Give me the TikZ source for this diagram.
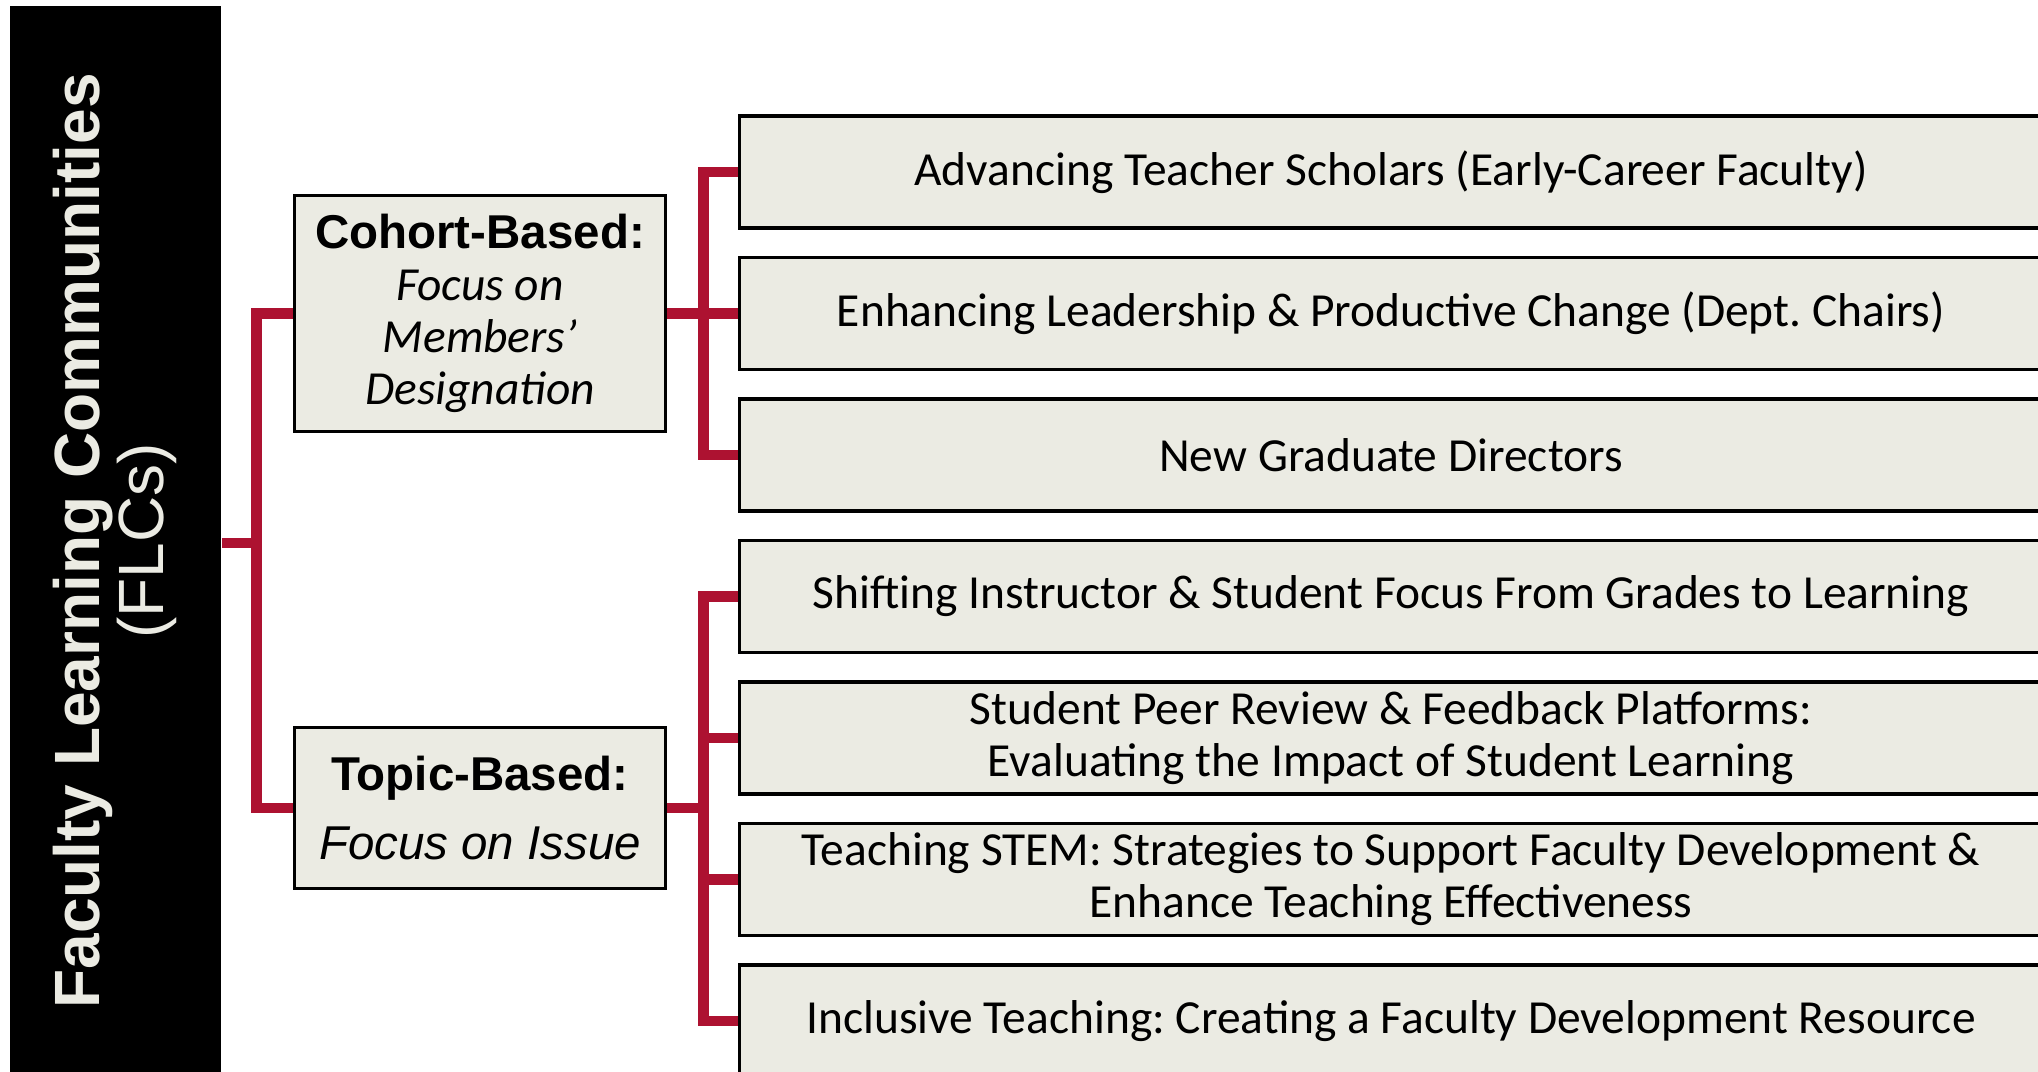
\documentclass[tikz,border=0pt]{standalone}
\usepackage{fontspec}
\setmainfont{Carlito}
\newfontfamily\arialfont{Liberation Sans}
\usetikzlibrary{calc}
\frenchspacing
\definecolor{flcred}{HTML}{AD1231}
\definecolor{boxgray}{HTML}{EBEBE3}
\definecolor{titlegray}{HTML}{EBEBE3}
\tikzset{
  link/.style={draw=flcred, line width=3.1pt},
  hub/.style={
    draw=black,
    fill=boxgray,
    line width=0.9pt,
    align=center,
    minimum width=3.7cm,
    inner sep=2pt,
    font=\fontsize{13.5}{14.8}\selectfont
  },
  leaf/.style={
    draw=black,
    fill=boxgray,
    line width=0.9pt,
    align=center,
    minimum width=13.02cm,
    minimum height=1.12cm,
    inner sep=2pt,
    font=\fontsize{13.5}{14.8}\selectfont
  },
  titlebar/.style={fill=black, minimum width=2.11cm, minimum height=10.74cm, inner sep=0pt}
}
\begin{document}
\begin{tikzpicture}[x=0.01cm,y=-0.01cm]
  \useasboundingbox (0,0) rectangle (2038,1072);
  \clip (0,0) rectangle (2038,1072);

  \node[titlebar] (bar) at (115.5,543) {};
  \node[rotate=90, text=titlegray, align=center,
    font=\arialfont\fontsize{18.2}{17}\selectfont] (title) at (115,541)
    {\textbf{Faculty Learning Communities}\\(FLCs)};

  \node[hub, minimum height=2.36cm] (cohort) at (480,313.5)
    {{\arialfont\bfseries Cohort-Based:}\\\textit{Focus on}\\\textit{Members’}\\\textit{Designation}};
  \node[hub, minimum height=1.61cm] (topic) at (480,808)
    {{\arialfont\bfseries Topic-Based:}\\[5pt]{\arialfont\itshape Focus on Issue}};

  \node[leaf] (ats) at (1391,172) {Advancing Teacher Scholars (Early-Career Faculty)};
  \node[leaf] (elc) at (1391,313.5) {Enhancing Leadership \& Productive Change (Dept. Chairs)};
  \node[leaf] (ngd) at (1391,455) {New Graduate Directors};
  \node[leaf] (sif) at (1391,596.5) {Shifting Instructor \& Student Focus From Grades to Learning};
  \node[leaf] (spr) at (1391,738)
    {Student Peer Review \& Feedback Platforms:\\Evaluating the Impact of Student Learning};
  \node[leaf] (stem) at (1391,879.5)
    {Teaching STEM: Strategies to Support Faculty Development \&\\Enhance Teaching Effectiveness};
  \node[leaf] (inc) at (1391,1021) {Inclusive Teaching: Creating a Faculty Development Resource};

  \draw[link] (bar.east) -- ++(35,0) coordinate (jl);
  \draw[link] (cohort.west) -| (jl) |- (topic.west);

  \draw[link] (cohort.east) -- ++(37,0) coordinate (jc);
  \draw[link] (ats.west) -| (jc) |- (ngd.west);
  \draw[link] (jc) -- (elc.west);

  \draw[link] (topic.east) -- ++(37,0) coordinate (jt);
  \draw[link] (sif.west) -| (jt) |- (inc.west);
  \draw[link] (spr.west -| jt) -- (spr.west);
  \draw[link] (stem.west -| jt) -- (stem.west);
\end{tikzpicture}
\end{document}
